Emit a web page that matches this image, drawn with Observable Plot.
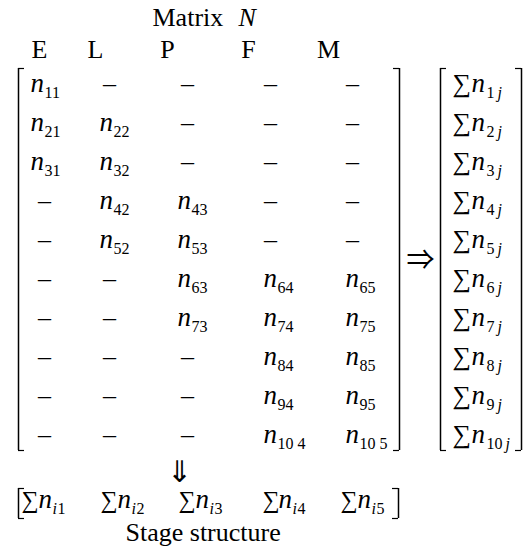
<!DOCTYPE html>
<html><head><meta charset="utf-8">
<script src="https://cdn.jsdelivr.net/npm/d3@7"></script>
<script src="https://cdn.jsdelivr.net/npm/@observablehq/plot@0.6"></script>
<style>html,body{margin:0;padding:0;background:#fff}</style>
</head><body><div id="chart"></div>
<script>
// ---------- data ----------
const titleText = "Matrix";
const titleVar = "N";
const stages = ["E", "L", "P", "F", "M"];
const rowLabels = ["1", "2", "3", "4", "5", "6", "7", "8", "9", "10"];
const cellSubs = [
  ["11", "–", "–", "–", "–"],
  ["21", "22", "–", "–", "–"],
  ["31", "32", "–", "–", "–"],
  ["–", "42", "43", "–", "–"],
  ["–", "52", "53", "–", "–"],
  ["–", "–", "63", "64", "65"],
  ["–", "–", "73", "74", "75"],
  ["–", "–", "–", "84", "85"],
  ["–", "–", "–", "94", "95"],
  ["–", "–", "–", "10 4", "10 5"]
];
const colLabels = ["1", "2", "3", "4", "5"];
const captionText = "Stage structure";
const sumSym = "∑";
const varSym = "n";
const rowVarSub = "j";
const colVarSub = "i";
const arrowRight = "⇒";
const arrowDown = "⇓";

// ---------- layout ----------
const W = 531, H = 554;
const serif = "Liberation Serif, Times New Roman, DejaVu Serif, serif";
const arrowFont = "Noto Sans CJK JP, DejaVu Sans, sans-serif";
const FS = 26, NFS = 27, SUB = 16;
const rowBase = i => 91 + 39.1 * i;
const subDrop = 6;
const headerX = [39, 95, 167, 248, 328];
const colN = [30, 99, 177, 263, 345];
const colDash = [44, 109, 187, 270, 352];
const vec = {sum: 452, n: 471, sub: 486};
const bot = {y: 507, sum: [21, 100, 178, 262, 340], n: [38, 117, 195, 278, 357]};

const cells = cellSubs.flatMap((row, i) => row.map((s, j) => ({i, j, s})));
const filled = cells.filter(d => d.s !== "–");
const empty = cells.filter(d => d.s === "–");

const brackets = [
  {x: 18, y1: 68, y2: 450, dir: 1},
  {x: 399, y1: 68, y2: 450, dir: -1},
  {x: 440, y1: 68, y2: 450, dir: 1},
  {x: 521, y1: 68, y2: 450, dir: -1},
  {x: 18, y1: 488, y2: 518, dir: 1},
  {x: 398, y1: 488, y2: 518, dir: -1}
];
const ticks = brackets.flatMap(b => [
  {x1: b.x, x2: b.x + 6 * b.dir, y: b.y1},
  {x1: b.x, x2: b.x + 6 * b.dir, y: b.y2}
]);

const common = {fontFamily: serif, lineAnchor: "bottom", textAnchor: "start", fill: "black"};

const chart = Plot.plot({
  width: W, height: H,
  marginTop: 0, marginRight: 0, marginBottom: 0, marginLeft: 0,
  x: {domain: [0, W], range: [0, W], axis: null},
  y: {domain: [0, H], range: [0, H], axis: null},
  style: {fontFamily: serif, background: "#fff", color: "black"},
  marks: [
    // title
    Plot.text([titleText], {...common, x: 152, y: 25, text: d => d, fontSize: FS}),
    Plot.text([titleVar], {...common, x: 238, y: 25, text: d => d, fontSize: FS, fontStyle: "italic"}),
    // stage headers
    Plot.text(stages, {...common, textAnchor: "middle", x: (d, j) => headerX[j], y: 57, text: d => d, fontSize: FS}),
    // matrix cells
    Plot.text(filled, {...common, x: d => colN[d.j], y: d => rowBase(d.i), text: () => varSym, fontSize: NFS, fontStyle: "italic"}),
    Plot.text(filled, {...common, x: d => colN[d.j] + 14, y: d => rowBase(d.i) + subDrop, text: d => d.s, fontSize: SUB}),
    Plot.text(empty, {...common, textAnchor: "middle", x: d => colDash[d.j], y: d => rowBase(d.i), text: d => d.s, fontSize: FS}),
    // brackets
    Plot.ruleX(brackets, {x: "x", y1: "y1", y2: "y2", stroke: "black", strokeWidth: 1.5}),
    Plot.ruleY(ticks, {x1: "x1", x2: "x2", y: "y", stroke: "black", strokeWidth: 1.2}),
    // arrows
    Plot.text([arrowRight], {...common, fontFamily: arrowFont, textAnchor: "middle", lineAnchor: "middle", x: 420, y: 261, text: d => d, fontSize: 28}),
    Plot.text([arrowDown], {...common, fontFamily: arrowFont, textAnchor: "middle", lineAnchor: "middle", x: 179, y: 472, text: d => d, fontSize: 30}),
    // row sums vector
    Plot.text(rowLabels, {...common, x: vec.sum, y: (d, i) => rowBase(i), text: () => sumSym, fontSize: FS}),
    Plot.text(rowLabels, {...common, x: vec.n, y: (d, i) => rowBase(i), text: () => varSym, fontSize: NFS, fontStyle: "italic"}),
    Plot.text(rowLabels, {...common, x: vec.sub, y: (d, i) => rowBase(i) + subDrop, text: d => d, fontSize: SUB}),
    Plot.text(rowLabels, {...common, x: d => vec.sub + d.length * 8 + 3, y: (d, i) => rowBase(i) + subDrop, text: () => rowVarSub, fontSize: SUB, fontStyle: "italic"}),
    // column sums row
    Plot.text(colLabels, {...common, x: (d, j) => bot.sum[j], y: bot.y, text: () => sumSym, fontSize: 24}),
    Plot.text(colLabels, {...common, x: (d, j) => bot.n[j], y: bot.y, text: () => varSym, fontSize: NFS, fontStyle: "italic"}),
    Plot.text(colLabels, {...common, x: (d, j) => bot.n[j] + 14, y: bot.y + subDrop, text: () => colVarSub, fontSize: SUB, fontStyle: "italic"}),
    Plot.text(colLabels, {...common, x: (d, j) => bot.n[j] + 19, y: bot.y + subDrop, text: d => d, fontSize: SUB}),
    // caption
    Plot.text([captionText], {...common, x: 125, y: 540, text: d => d, fontSize: FS})
  ]
});
document.getElementById("chart").appendChild(chart);
</script>
</body></html>
